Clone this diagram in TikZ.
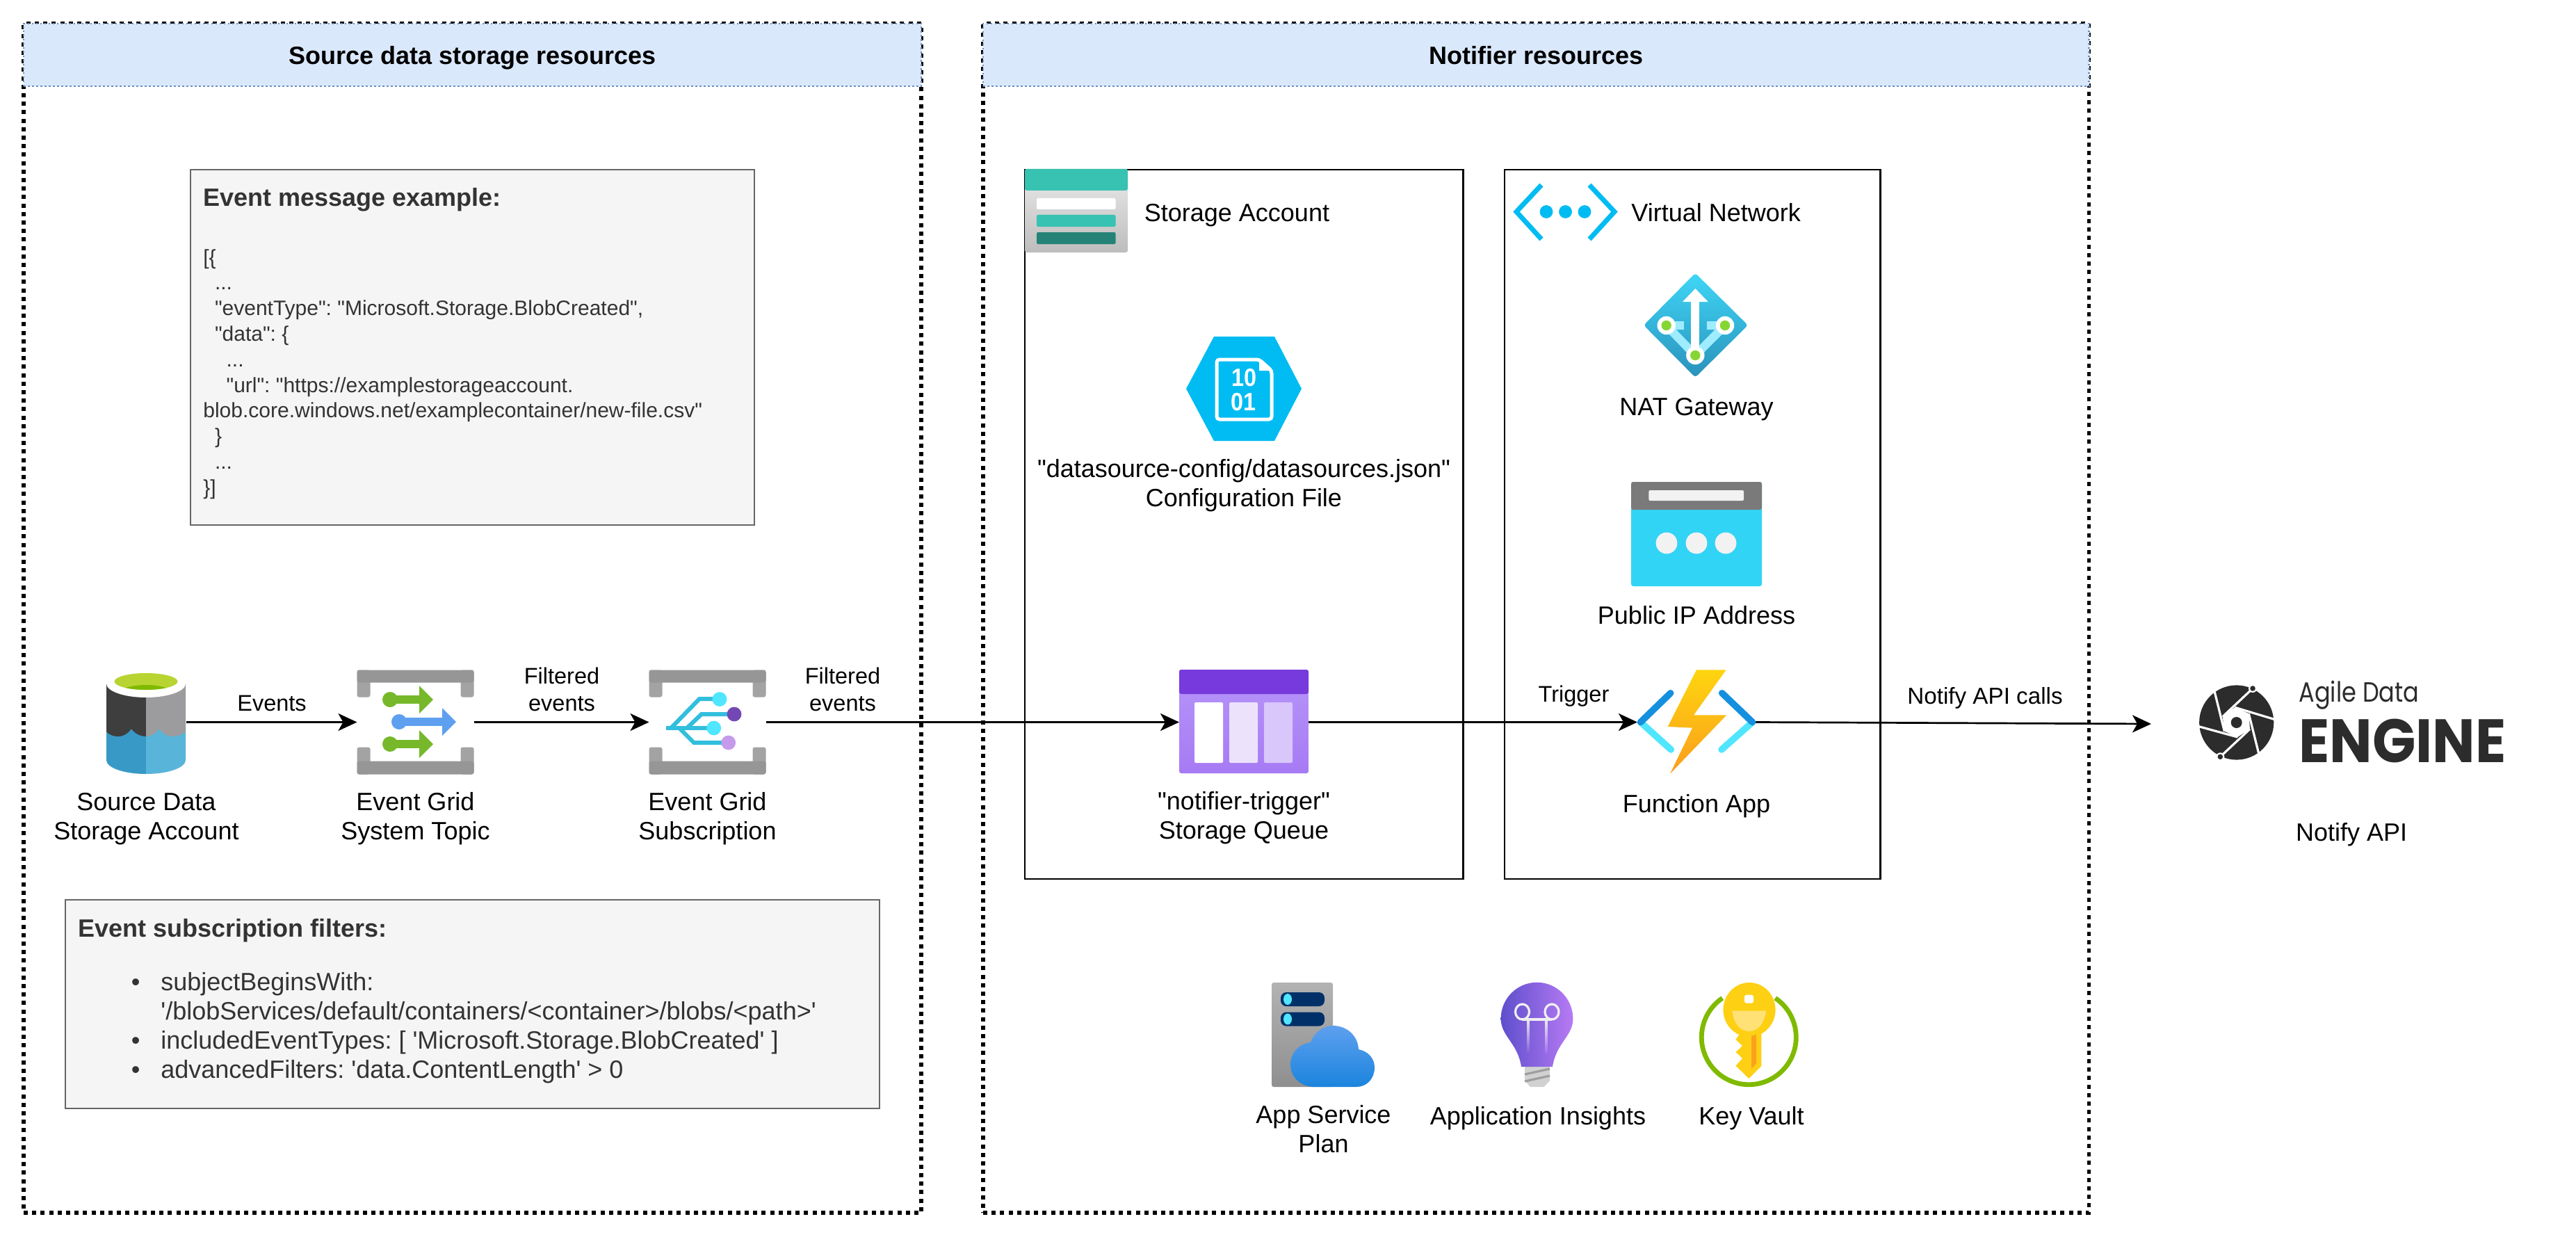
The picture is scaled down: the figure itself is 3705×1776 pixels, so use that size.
\documentclass[tikz,border=0pt]{standalone}
\usepackage{fontspec}
\usetikzlibrary{positioning,arrows.meta}

\newfontfamily\diagramfont{Liberation Sans}
\newfontfamily\logofont{Poppins}

\definecolor{headblue}{HTML}{DAE8FC}
\definecolor{headline}{HTML}{6C8EBF}
\definecolor{notegray}{HTML}{F5F5F5}
\definecolor{noteline}{HTML}{666666}
\definecolor{notetext}{HTML}{333333}
\definecolor{azblue}{HTML}{00BCF2}
\definecolor{azcyan}{HTML}{50E6FF}
\definecolor{azteal}{HTML}{37C2B1}
\definecolor{azdarkteal}{HTML}{258277}
\definecolor{treeblue}{HTML}{32BEDD}
\definecolor{arrgreen}{HTML}{76B82A}
\definecolor{arrblue}{HTML}{5EA0EF}
\definecolor{logodark}{HTML}{2C2C2C}
\definecolor{keygold}{HTML}{FED014}
\definecolor{keylight}{HTML}{FFE176}
\definecolor{keyorange}{HTML}{FAA21D}
\definecolor{ringgreen}{HTML}{7FBA00}
\definecolor{cylblue}{HTML}{3999C6}
\definecolor{cyllight}{HTML}{59B4D9}
\definecolor{cyldark}{HTML}{3E3E3E}
\definecolor{cylgray}{HTML}{9C9C9E}
\definecolor{cyllime}{HTML}{B8D432}
\definecolor{treepurple}{HTML}{7348B4}
\definecolor{treelilac}{HTML}{C69AEB}
\definecolor{natbottom}{HTML}{2A92BB}
\definecolor{nattop}{HTML}{3FD6F7}
\definecolor{natlink}{HTML}{9FECFF}
\definecolor{natdot}{HTML}{86D633}
\definecolor{ipblue}{HTML}{32D4F5}
\definecolor{queuehead}{HTML}{773ADC}
\definecolor{queuetop}{HTML}{B796F9}
\definecolor{queuebot}{HTML}{A67AF4}
\definecolor{queuebarb}{HTML}{ECE2FB}
\definecolor{queuebarc}{HTML}{D9C6FB}
\definecolor{fnblue}{HTML}{1490DF}
\definecolor{boltTop}{HTML}{FED50F}
\definecolor{boltBot}{HTML}{FB9D1C}
\definecolor{slotblue}{HTML}{003067}
\definecolor{cloudbot}{HTML}{1B84DD}
\definecolor{bulbleft}{HTML}{5E4FCC}
\definecolor{bulbright}{HTML}{B77AF4}

\newcommand{\lblfont}{\diagramfont\fontsize{18pt}{21pt}\selectfont}
\newcommand{\edgefont}{\diagramfont\fontsize{16.25pt}{19.7pt}\selectfont}
\newcommand{\notefont}{\diagramfont\frenchspacing\fontsize{15pt}{18.4pt}\selectfont}
\newcommand{\bltmark}{\leavevmode\llap{\textbullet\hspace{15pt}}}
\newcommand{\twosp}{\hspace*{8.3pt}}

\begin{document}
\begin{tikzpicture}[
  x=0.5pt, y=-0.5pt,
  panel/.style={draw=black, line width=2.75pt, dash pattern=on 3pt off 3.1pt, inner sep=0pt, outer sep=0pt, anchor=north west},
  header/.style={panel, draw=headline, fill=headblue, line width=1.25pt, dash pattern=on 1.25pt off 1.75pt, font=\lblfont\bfseries},
  group/.style={draw=black, line width=1.4pt, inner sep=0pt, outer sep=0pt, anchor=north west},
  note/.style={draw=noteline, fill=notegray, line width=1.3pt, inner sep=0pt, outer sep=0pt, anchor=north west},
  iconbox/.style 2 args={inner sep=0pt, outer sep=0pt, minimum width=#1*0.5pt, minimum height=#2*0.5pt},
  lbl/.style={font=\lblfont, align=center, inner sep=0pt, execute at begin node=\strut, execute at end node=\strut},
  edgelbl/.style={lbl, font=\edgefont},
  notetitle/.style={font=\lblfont\bfseries, text=notetext, inner sep=0pt, anchor=west},
  notebody/.style={font=\notefont, text=notetext, align=left, inner sep=0pt, anchor=north west},
  bitlbl/.style={font=\diagramfont\bfseries\fontsize{18pt}{20pt}\selectfont, text=white, inner sep=0pt},
  arr/.style={-{Stealth[length=13.5pt, width=12.5pt, inset=3.5pt]}, line width=1.35pt},
  pics/gridframe/.style={code={
    \fill[black!36, rounded corners=1.5pt] (-84,-75) rectangle (-65,-36);
    \fill[black!36, rounded corners=1.5pt] (65,-75) rectangle (84,-36);
    \fill[black!36, rounded corners=1.5pt] (-84,36) rectangle (-65,75);
    \fill[black!36, rounded corners=1.5pt] (65,36) rectangle (84,75);
    \fill[black!41, rounded corners=1.5pt] (-84,-75) rectangle (84,-57);
    \fill[black!41, rounded corners=1.5pt] (-84,56) rectangle (84,75);
  }},
  pics/gridarrow/.style 2 args={code={
    \fill[#1] (0,0) circle[radius=5.5pt];
    \fill[#1] (0,-6) rectangle (#2,6);
    \fill[#1] (#2,-20) -- (#2+20,0) -- (#2,20) -- cycle;
  }}
]
\useasboundingbox (0,0) rectangle (3705,1776);

% Resource panels with their headers
\node[panel, minimum width=645.5pt, minimum height=855pt] (srcpanel) at (34,34) {};
\node[header, minimum width=645.5pt, minimum height=45pt] (srchead) at (34,34) {\raisebox{-7pt}[0pt][0pt]{Source data storage resources}};
\node[panel, minimum width=795.25pt, minimum height=855pt] (notifpanel) at (1414,34) {};
\node[header, minimum width=795.25pt, minimum height=45pt] (notifhead) at (1414,34) {\raisebox{-7pt}[0pt][0pt]{Notifier resources}};

% Inner groups
\node[group, minimum width=315.25pt, minimum height=510pt] (sagroup) at (1474,244) {};
\node[group, minimum width=270.25pt, minimum height=510pt] (vnetgroup) at (2164,244) {};

% Grey note boxes
\node[note, minimum width=405.5pt, minimum height=255.5pt] (msgnote) at (274,244) {};
\node[notetitle] (msgtitle) at (292,287) {Event message example:};
\node[notebody] (msgbody) at (292,358) {%
[\{\\
\twosp ...\\
\twosp "eventType": "Microsoft.Storage.BlobCreated",\\
\twosp "data": \{\\
\twosp\twosp ...\\
\twosp\twosp "url": "https://examplestorageaccount.\\
blob.core.windows.net/examplecontainer/new-file.csv"\\
\twosp\}\\
\twosp ...\\
\}]};
\node[note, minimum width=585.5pt, minimum height=150pt] (filternote) at (94,1294) {};
\node[notetitle] (filtertitle) at (112.5,1338) {Event subscription filters:};
\node[notebody, font=\diagramfont\frenchspacing\fontsize{18pt}{21pt}\selectfont] (filterbody) at (231,1398) {%
\bltmark subjectBeginsWith:\\
'/blobServices/default/containers/<container>/blobs/<path>'\\
\bltmark includedEventTypes: [ 'Microsoft.Storage.BlobCreated' ]\\
\bltmark advancedFilters: 'data.ContentLength' > 0};

% Icon nodes
\node[iconbox={114}{150}] (storage) at (210.5,1038.5) {};
\node[iconbox={168}{150}] (topic) at (597.5,1038.5) {};
\node[iconbox={168}{150}] (subscr) at (1017.5,1038.5) {};
\node[iconbox={186}{150}] (queue) at (1789,1038.5) {};
\node[iconbox={170}{150}] (function) at (2440,1038.5) {};
\node[iconbox={148}{120}] (saicon) at (1548,303) {};
\node[iconbox={149}{82}] (vneticon) at (2251.5,304.5) {};
\node[iconbox={166}{150}] (configfile) at (1789,559) {};
\node[iconbox={150}{150}] (natgw) at (2440,468) {};
\node[iconbox={188}{150}] (publicip) at (2440,768) {};
\node[iconbox={148}{150}] (appplan) at (1903.5,1488) {};
\node[iconbox={104}{150}] (appinsights) at (2212,1488) {};
\node[iconbox={143}{150}] (keyvault) at (2519,1488) {};
\coordinate (notifyend) at (3094,1041);

% Connectors
\draw[arr] (storage.east) -- (topic.west);
\draw[arr] (topic.east) -- (subscr.west);
\draw[arr] (subscr.east) -- (queue.west);
\draw[arr] (queue.east) -- (function.west);
\draw[arr] (function.east) -- (notifyend);

% Source storage cylinder
\fill[cylblue] (153,1045) -- (153,1093) .. controls (153,1104) and (178,1113) .. (210,1113) -- (210,1045) -- cycle;
\fill[cyllight] (267,1045) -- (267,1093) .. controls (267,1104) and (242,1113) .. (210,1113) -- (210,1045) -- cycle;
\fill[cyldark] (153,983) -- (153,1052) .. controls (158,1058) and (165,1059) .. (170,1059) .. controls (178,1059) and (185,1054) .. (189,1048) .. controls (193,1054) and (201,1059) .. (210,1059) -- (210,983) -- cycle;
\fill[cylgray] (210,983) -- (210,1059) .. controls (218,1059) and (225,1054) .. (229,1048) .. controls (233,1054) and (240,1059) .. (247,1059) .. controls (254,1059) and (262,1057) .. (267,1052) -- (267,983) -- cycle;
\fill[white] (210,983) ellipse[x radius=28.5pt, y radius=10pt];
\begin{scope}
  \clip (210,980) ellipse[x radius=22.75pt, y radius=6pt];
  \fill[cyllime] (160,960) rectangle (260,1000);
  \fill[ringgreen] (210,997) ellipse[x radius=19pt, y radius=6pt];
\end{scope}

% Event Grid icons
\pic at (topic) {gridframe};
\pic at (561,1006) {gridarrow={arrgreen}{42}};
\pic at (561,1070) {gridarrow={arrgreen}{42}};
\pic at (574,1038) {gridarrow={arrblue}{62}};
\pic at (subscr) {gridframe};
\draw[treeblue, line width=3pt] (958,1047) -- (1027,1047);
\draw[treeblue, line width=3pt] (965,1047) -- (1006,1005) -- (1035,1005);
\draw[treeblue, line width=3pt] (988,1047) -- (1009,1027) -- (1056,1027);
\draw[treeblue, line width=3pt] (977,1047) -- (998,1068) -- (1048,1068);
\fill[azcyan] (1035,1005.5) circle[radius=5.2pt];
\fill[azcyan] (1026.7,1047) circle[radius=5.2pt];
\fill[treepurple] (1056,1027) circle[radius=5.2pt];
\fill[treelilac] (1047.7,1068) circle[radius=5.2pt];

% Storage account icon
\shade[top color=black!8, bottom color=black!26, rounded corners=1.5pt] (1474,243) rectangle (1622,363);
\fill[azteal, rounded corners=1.5pt] (1474,274) -- (1474,243) -- (1622,243) -- (1622,274) -- cycle;
\fill[white, rounded corners=1pt] (1491,285) rectangle (1604.5,301);
\fill[azteal, rounded corners=1pt] (1491,309) rectangle (1604.5,326);
\fill[azdarkteal, rounded corners=1pt] (1491,334) rectangle (1604.5,351);

% Virtual network icon
\draw[azblue, line width=3.5pt] (2217,266) -- (2181,304.5) -- (2217,344);
\draw[azblue, line width=3.5pt] (2286,266) -- (2322,304.5) -- (2286,344);
\foreach \dotx in {2224,2251.5,2279} {\fill[azblue] (\dotx,304.5) circle[radius=4.7pt];}

% Configuration file hexagon
\fill[azblue] (1746,484) -- (1833,484) -- (1872,559) -- (1833,634) -- (1746,634) -- (1706,559) -- cycle;
\draw[white, line width=2.5pt, rounded corners=2pt] (1811,517) -- (1750,517) -- (1750,603) -- (1829,603) -- (1829,533) -- cycle;
\fill[white] (1811,515) -- (1831,533) -- (1811,533) -- cycle;
\node[bitlbl] (bitsa) at (1789,543) {\scalebox{.9}[1]{10}};
\node[bitlbl] (bitsb) at (1788,578) {\scalebox{.9}[1]{01}};

% NAT gateway icon
\shade[top color=nattop, bottom color=natbottom, rounded corners=2pt] (2364,467.7) -- (2438.3,392.7) -- (2514,467.7) -- (2438.3,542.7) -- cycle;
\draw[natlink, line width=6pt] (2396.7,468) -- (2422,468);
\draw[natlink, line width=6pt] (2455,468) -- (2481,468);
\draw[natlink, line width=6pt] (2396.7,468) -- (2438.3,511) -- (2481,468);
\fill[white] (2432.3,433) rectangle (2444.3,511);
\fill[white] (2438.3,415) -- (2456.7,434) -- (2420,434) -- cycle;
\foreach \natx/\naty in {2396.7/468, 2481/468, 2438.3/511} {
  \fill[white] (\natx,\naty) circle[radius=6.6pt];
  \fill[natdot] (\natx,\naty) circle[radius=3.6pt];
}

% Public IP icon
\fill[ipblue, rounded corners=1.5pt] (2346,693) rectangle (2534,843);
\fill[black!52, rounded corners=1.5pt] (2346,733) -- (2346,693) -- (2534,693) -- (2534,733) -- cycle;
\fill[black!5, rounded corners=1pt] (2371.4,705) rectangle (2508,720);
\foreach \ipx in {2397,2440,2482} {\fill[black!5] (\ipx,781) circle[radius=7.7pt];}

% Storage queue icon
\shade[top color=queuetop, bottom color=queuebot, rounded corners=1.5pt] (1696,963) rectangle (1882,1112);
\fill[queuehead, rounded corners=1.5pt] (1696,998) -- (1696,963) -- (1882,963) -- (1882,998) -- cycle;
\fill[white, rounded corners=1pt] (1718,1010) rectangle (1759,1097);
\fill[queuebarb, rounded corners=1pt] (1768,1010) rectangle (1809,1097);
\fill[queuebarc, rounded corners=1pt] (1818,1010) rectangle (1859,1097);

% Function app icon
\draw[azcyan, line width=4.8pt, line cap=round] (2359.5,1038.5) -- (2403.3,1078);
\draw[azcyan, line width=4.8pt, line cap=round] (2520.5,1038.5) -- (2476,1078);
\draw[fnblue, line width=4.8pt, line cap=round] (2359.5,1038.5) -- (2402.7,996.7);
\draw[fnblue, line width=4.8pt, line cap=round] (2520.5,1038.5) -- (2476.7,996.7);
\shade[top color=boltTop, bottom color=boltBot] (2440,963.3) -- (2482.7,963.3) -- (2436,1028.3) -- (2483.3,1028.3) -- (2402,1112.7) -- (2434,1046.7) -- (2398.7,1045) -- cycle;

% App service plan icon
\shade[top color=black!30, bottom color=black!44, rounded corners=1.5pt] (1829,1413) rectangle (1917,1563);
\foreach \sloty in {1437,1465.5} {
  \fill[slotblue, rounded corners=4pt] (1842,\sloty-10) rectangle (1905,\sloty+10);
  \fill[azcyan] (1852,\sloty) ellipse[x radius=3pt, y radius=4pt];
}
\shade[top color=arrblue, bottom color=cloudbot] (1888,1563) .. controls (1868,1561) and (1856,1548) .. (1856,1530) .. controls (1856,1515) and (1868,1501) .. (1885,1499) .. controls (1890,1485) and (1903,1475) .. (1917,1475) .. controls (1938,1475) and (1953,1490) .. (1954,1509) .. controls (1968,1512) and (1977,1522) .. (1977,1535) .. controls (1977,1551) and (1966,1563) .. (1951,1563) -- cycle;

% Application insights icon
\fill[black!18] (2193,1530) -- (2229,1530) -- (2229,1554) -- (2220.6,1563) -- (2200.9,1563) -- (2193,1554) -- cycle;
\draw[black!38, line width=1.6pt] (2193,1545) -- (2229,1537);
\draw[black!38, line width=1.6pt] (2193,1555) -- (2229,1547);
\shade[left color=bulbleft, right color=bulbright] (2188,1534) .. controls (2183,1500) and (2158.6,1490) .. (2158.6,1465) .. controls (2158.6,1436) and (2182,1412.7) .. (2210.5,1412.7) .. controls (2239,1412.7) and (2262.4,1436) .. (2262.4,1465) .. controls (2262.4,1490) and (2238,1500) .. (2233,1534) -- cycle;
\draw[black!6, line width=1.6pt] (2189.5,1455) ellipse[x radius=5pt, y radius=5.5pt];
\draw[black!6, line width=1.6pt] (2232,1455) ellipse[x radius=5pt, y radius=5.5pt];
\draw[black!6, line width=1.6pt] (2189,1466) -- (2232,1466);
\shade[top color=black!6, bottom color=bulbleft!60!bulbright] (2196.5,1464) rectangle (2199.5,1514);
\shade[top color=black!6, bottom color=bulbright!80!bulbleft] (2222.5,1464) rectangle (2225.5,1514);

% Key vault icon
\draw[ringgreen, line width=3.4pt] (2515.3,1491.7) ++(124:34pt) arc[start angle=124, end angle=416, radius=34pt];
\fill[keygold] (2516,1452) ellipse[x radius=18.8pt, y radius=19.5pt];
\fill[keygold] (2502.7,1475) -- (2533.4,1475) -- (2533.4,1533) -- (2515.3,1551) -- (2496.5,1532.7) -- (2506,1522) -- (2496.5,1513) -- (2506,1504) -- (2496.5,1495) -- (2502.7,1486) -- cycle;
\fill[keylight] (2491.6,1453.7) -- (2540,1453.7) .. controls (2538,1472) and (2528,1483) .. (2516,1483) .. controls (2503,1483) and (2493,1472) .. (2491.6,1453.7) -- cycle;
\fill[white, rounded corners=1.5pt] (2509,1430.7) rectangle (2522,1442.7);
\fill[keyorange] (2519,1490) -- (2526,1487.7) -- (2526,1529.3) -- (2519,1537) -- cycle;

% Engine logo
\fill[logodark] (3216.7,1039) circle[radius=26.8pt];
\fill[white] (3196.7,1030.7) -- (3214.3,1017.3) -- (3234.3,1026) -- (3236,1048.3) -- (3218.3,1060) -- (3199.3,1051.7) -- cycle;
\draw[white, line width=1.6pt] (3240,990) -- (3196.7,1030.7);
\draw[white, line width=1.6pt] (3185,994) -- (3199.3,1051.7);
\draw[white, line width=1.6pt] (3160,1044) -- (3218.3,1060);
\draw[white, line width=1.6pt] (3193.3,1088.3) -- (3236,1048.3);
\draw[white, line width=1.6pt] (3249,1085) -- (3234.3,1026);
\draw[white, line width=1.6pt] (3273,1035) -- (3214.3,1017.3);
\fill[logodark] (3216.7,1039) circle[radius=4pt];
\foreach \logox/\logoy in {3240/990, 3193.3/1088.3} {
  \fill[white] (\logox,\logoy) circle[radius=3pt];
  \fill[logodark] (\logox,\logoy) circle[radius=1.9pt];
}
\node[font=\logofont\fontsize{20pt}{22pt}\selectfont, text=logodark, inner sep=0pt, anchor=west] (logoagile) at (3306,1000) {\scalebox{.84}[1]{Agile Data}};
\node[font=\logofont\bfseries\fontsize{44pt}{48pt}\selectfont, text=logodark, inner sep=0pt, anchor=west] (logoengine) at (3306,1065) {\scalebox{.93}[1]{ENGINE}};

% Labels below the icons
\node[lbl, below=13pt of storage] (storagelbl) {Source Data\\Storage Account};
\node[lbl, below=13pt of topic] (topiclbl) {Event Grid\\System Topic};
\node[lbl, below=13pt of subscr] (subscrlbl) {Event Grid\\Subscription};
\node[lbl, below=12.5pt of queue] (queuelbl) {"notifier-trigger"\\Storage Queue};
\node[lbl, below=12.5pt of function] (functionlbl) {Function App};
\node[lbl, below=13pt of configfile] (configlbl) {"datasource-config/datasources.json"\\Configuration File};
\node[lbl, below=12.5pt of natgw] (natlbl) {NAT Gateway};
\node[lbl, below=12.5pt of publicip] (publiciplbl) {Public IP Address};
\node[lbl, below=13pt of appplan] (planlbl) {App Service\\Plan};
\node[lbl, below=12.5pt of appinsights] (insightslbl) {Application Insights};
\node[lbl, below=12.5pt of keyvault] (keyvaultlbl) {Key Vault};
\node[lbl, right=11.75pt of saicon, yshift=-3.5pt] (salbl) {Storage Account};
\node[lbl, right=10pt of vneticon, yshift=-2.7pt] (vnetlbl) {Virtual Network};
\node[lbl] (notifyapilbl) at (3382,1201) {Notify API};

% Connector labels
\node[edgelbl] (eventslbl) at (391,1015) {Events};
\node[edgelbl] (filteredlbl) at (808,997) {Filtered\\events};
\node[edgelbl] (filteredlblb) at (1212,997) {Filtered\\events};
\node[edgelbl] (triggerlbl) at (2263.5,1002) {Trigger};
\node[edgelbl, font=\diagramfont\fontsize{16.6pt}{20pt}\selectfont] (notifylbl) at (2855,1004) {Notify API calls};
\end{tikzpicture}
\end{document}
